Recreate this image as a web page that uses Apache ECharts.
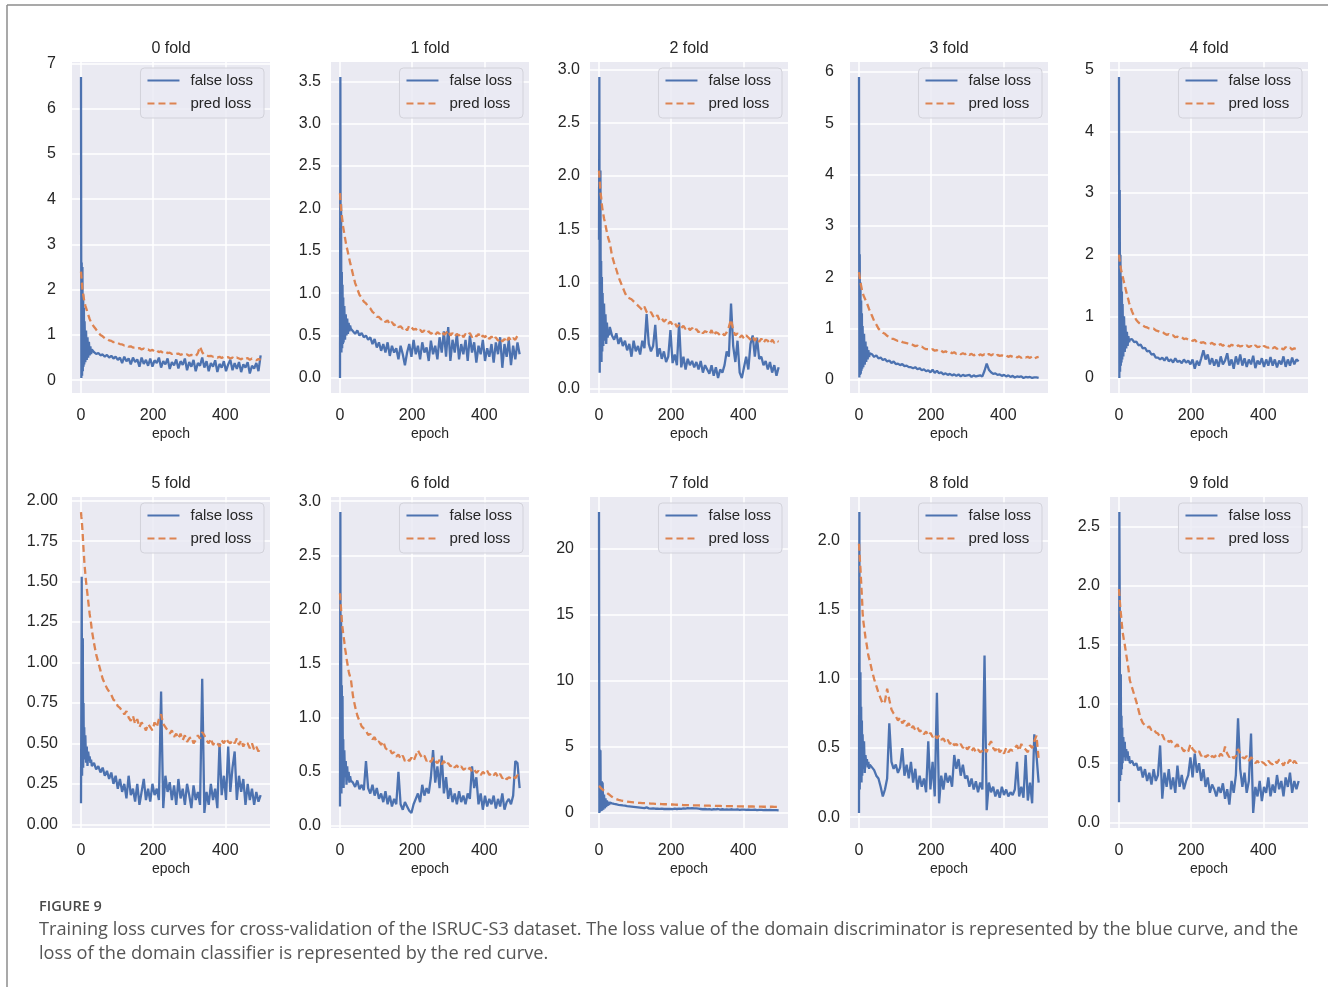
<!DOCTYPE html>
<html>
<head>
<meta charset="utf-8">
<script src="https://cdn.jsdelivr.net/npm/echarts@6/dist/echarts.min.js"></script>
<style>
html,body{margin:0;padding:0;background:#ffffff;}
#chart{width:1328px;height:987px;}
</style>
</head>
<body>
<div id="chart"></div>
<script>
// ---------------- DATA ----------------
const epochs = [0,1,2,3,4,5,6,7,8,9,10,12,14,16,18,20,22,24,26,28,30,
  36,42,48,54,60,66,72,78,84,90,96,102,108,
  114,120,126,132,138,144,150,156,162,168,174,180,186,
  192,198,204,210,216,222,228,234,240,246,252,258,264,
  270,276,282,288,294,300,306,312,318,324,330,336,342,
  348,354,360,366,372,378,384,390,396,402,408,414,420,
  426,432,438,444,450,456,462,468,474,480,486,492,498];

const foldTitles = ['0 fold','1 fold','2 fold','3 fold','4 fold','5 fold','6 fold','7 fold','8 fold','9 fold'];
const legendNames = ['false loss','pred loss'];
const xTicks = [0,200,400];
const xName = 'epoch';

// fold 0
const false0 = [6.7,0.05,2.6,0.1,2.5,0.2,1.9,0.3,1.6,0.35,1.3, 0.4,1.1,0.45,0.95,0.5,0.85,0.55,0.75,0.58,0.68,
  0.62,0.58,0.6,0.55,0.57,0.52,0.56,0.5,0.54,0.48,0.52,0.45,0.5,
  0.38,0.52,0.42,0.48,0.35,0.5,0.4,0.46,0.3,0.5,0.36,0.45,0.32,
  0.48,0.3,0.44,0.38,0.5,0.28,0.42,0.35,0.48,0.25,0.4,0.33,0.46,
  0.26,0.42,0.34,0.48,0.22,0.4,0.3,0.45,0.2,0.38,0.32,0.5,0.28,
  0.42,0.2,0.38,0.3,0.44,0.18,0.36,0.28,0.42,0.2,0.35,0.45,0.22,
  0.38,0.25,0.4,0.18,0.35,0.28,0.4,0.15,0.32,0.26,0.38,0.2,0.55];
const pred0 = [2.4,2.3,2.2,2.1,2.0,1.95,1.9,1.85,1.8,1.75,1.72, 1.65,1.6,1.55,1.5,1.45,1.4,1.35,1.32,1.28,1.25,
  1.18,1.12,1.05,1.0,0.97,0.93,0.92,0.88,0.87,0.84,0.85,0.82,0.8,
  0.79,0.77,0.78,0.74,0.75,0.72,0.73,0.7,0.71,0.68,0.7,0.67,0.68,
  0.65,0.67,0.63,0.66,0.62,0.64,0.6,0.63,0.6,0.61,0.58,0.6,0.58,
  0.59,0.56,0.58,0.55,0.57,0.54,0.56,0.55,0.53,0.6,0.74,0.62,0.56,
  0.55,0.53,0.54,0.52,0.53,0.5,0.52,0.49,0.52,0.5,0.51,0.48,0.5,
  0.47,0.5,0.48,0.46,0.5,0.47,0.49,0.45,0.48,0.46,0.44,0.47,0.45];

// fold 1
const false1 = [0.0,3.55,0.5,2.05,0.3,1.25,0.35,1.1,0.4,0.95,0.42, 0.85,0.45,0.75,0.5,0.7,0.52,0.65,0.55,0.62,0.58,
  0.55,0.52,0.56,0.5,0.53,0.48,0.5,0.45,0.48,0.4,0.46,0.36,0.42,
  0.32,0.4,0.3,0.42,0.26,0.38,0.3,0.35,0.22,0.38,0.28,0.15,0.3,
  0.4,0.25,0.45,0.28,0.38,0.22,0.42,0.3,0.36,0.2,0.44,0.28,0.38,
  0.22,0.48,0.3,0.55,0.25,0.6,0.2,0.45,0.3,0.52,0.22,0.4,0.28,
  0.45,0.2,0.5,0.3,0.42,0.18,0.38,0.28,0.45,0.2,0.35,0.25,0.4,
  0.18,0.42,0.28,0.48,0.12,0.4,0.25,0.45,0.15,0.38,0.22,0.42,0.28];
const pred1 = [2.18,2.1,2.05,2.0,1.95,1.92,1.88,1.85,1.8,1.78,1.75, 1.7,1.65,1.6,1.55,1.52,1.48,1.44,1.4,1.36,1.33,
  1.22,1.12,1.05,0.98,0.95,0.9,0.88,0.84,0.82,0.78,0.76,0.72,0.72,
  0.69,0.7,0.66,0.68,0.63,0.66,0.62,0.64,0.6,0.61,0.58,0.6,0.56,
  0.62,0.6,0.57,0.58,0.55,0.57,0.54,0.56,0.53,0.55,0.52,0.54,0.51,
  0.54,0.52,0.55,0.51,0.53,0.56,0.5,0.53,0.49,0.52,0.5,0.53,0.48,
  0.52,0.5,0.53,0.48,0.51,0.49,0.52,0.47,0.5,0.48,0.51,0.46,0.49,
  0.45,0.48,0.44,0.47,0.43,0.46,0.42,0.48,0.44,0.47,0.45,0.5,0.48];

// fold 2
const false2 = [1.4,2.93,0.15,1.5,2.05,0.3,1.2,0.25,1.05,0.35,0.9, 0.4,0.8,0.45,0.7,0.42,0.62,0.48,0.55,0.5,0.58,
  0.5,0.46,0.52,0.42,0.48,0.4,0.45,0.36,0.42,0.3,0.45,0.35,0.4,
  0.32,0.45,0.38,0.7,0.42,0.35,0.4,0.6,0.3,0.38,0.28,0.35,0.25,
  0.3,0.55,0.24,0.32,0.22,0.62,0.2,0.3,0.18,0.28,0.22,0.26,0.2,
  0.25,0.18,0.26,0.15,0.22,0.18,0.14,0.22,0.12,0.2,0.1,0.18,0.15,
  0.22,0.35,0.3,0.8,0.4,0.25,0.45,0.15,0.1,0.2,0.3,0.18,0.42,
  0.5,0.3,0.48,0.28,0.3,0.22,0.26,0.18,0.25,0.15,0.22,0.12,0.2];
const pred2 = [2.05,2.0,1.95,1.9,1.85,1.82,1.8,1.76,1.73,1.7,1.68, 1.64,1.6,1.57,1.54,1.5,1.47,1.44,1.41,1.39,1.37,
  1.25,1.18,1.12,1.05,1.0,0.95,0.9,0.86,0.85,0.84,0.82,0.8,0.78,
  0.76,0.74,0.77,0.72,0.7,0.72,0.68,0.66,0.69,0.64,0.66,0.63,0.65,
  0.61,0.63,0.6,0.62,0.58,0.6,0.57,0.59,0.56,0.58,0.55,0.57,0.54,
  0.56,0.53,0.55,0.52,0.54,0.53,0.51,0.55,0.5,0.53,0.52,0.5,0.52,
  0.5,0.53,0.58,0.65,0.55,0.5,0.52,0.48,0.5,0.47,0.5,0.48,0.46,
  0.49,0.45,0.48,0.44,0.47,0.43,0.46,0.45,0.42,0.46,0.43,0.45,0.44];

// fold 3
const false3 = [5.9,0.05,2.45,0.1,1.9,0.12,1.55,0.18,1.3,0.22,1.05, 0.25,0.9,0.3,0.75,0.35,0.65,0.4,0.58,0.45,0.52,
  0.5,0.45,0.48,0.42,0.44,0.39,0.41,0.36,0.38,0.33,0.36,0.31,0.32,
  0.29,0.31,0.27,0.28,0.25,0.25,0.23,0.25,0.21,0.23,0.19,0.21,0.17,
  0.19,0.15,0.2,0.14,0.18,0.13,0.15,0.11,0.13,0.1,0.12,0.09,0.11,
  0.08,0.11,0.07,0.1,0.08,0.09,0.1,0.06,0.09,0.07,0.08,0.09,0.07,
  0.18,0.32,0.2,0.15,0.12,0.13,0.1,0.11,0.08,0.1,0.07,0.09,0.06,
  0.08,0.05,0.07,0.06,0.07,0.04,0.06,0.05,0.06,0.04,0.05,0.05,0.04];
const pred3 = [2.1,2.05,2.0,1.95,1.9,1.87,1.83,1.8,1.76,1.73,1.7, 1.66,1.62,1.59,1.56,1.53,1.5,1.46,1.42,1.38,1.35,
  1.25,1.15,1.08,1.0,0.96,0.92,0.9,0.86,0.84,0.8,0.8,0.78,0.76,
  0.77,0.74,0.73,0.72,0.7,0.71,0.68,0.66,0.67,0.64,0.65,0.62,0.6,
  0.6,0.58,0.6,0.57,0.58,0.55,0.57,0.54,0.56,0.53,0.55,0.52,0.54,
  0.51,0.53,0.5,0.52,0.5,0.53,0.49,0.51,0.48,0.5,0.47,0.5,0.48,
  0.5,0.47,0.51,0.48,0.5,0.46,0.49,0.47,0.48,0.46,0.48,0.45,0.47,
  0.45,0.47,0.44,0.46,0.43,0.46,0.44,0.45,0.43,0.46,0.42,0.44,0.45];

// fold 4
const false4 = [4.88,0.0,3.05,0.1,2.0,0.2,1.65,0.25,1.4,0.3,1.2, 0.35,1.0,0.42,0.85,0.48,0.75,0.52,0.68,0.58,0.62,
  0.63,0.58,0.59,0.53,0.54,0.48,0.49,0.43,0.44,0.38,0.39,0.33,0.33,
  0.3,0.33,0.28,0.34,0.27,0.3,0.25,0.32,0.26,0.28,0.24,0.3,0.25,
  0.28,0.22,0.3,0.15,0.28,0.2,0.32,0.45,0.3,0.38,0.22,0.32,0.2,
  0.3,0.18,0.35,0.22,0.28,0.4,0.2,0.3,0.15,0.35,0.22,0.38,0.2,
  0.32,0.18,0.3,0.22,0.36,0.16,0.28,0.22,0.32,0.18,0.3,0.2,0.34,
  0.2,0.3,0.17,0.28,0.22,0.35,0.18,0.3,0.2,0.33,0.22,0.3,0.27];
const pred4 = [2.0,1.95,1.9,1.86,1.82,1.78,1.75,1.72,1.7,1.68,1.66, 1.6,1.55,1.5,1.45,1.4,1.35,1.31,1.27,1.22,1.18,
  1.08,1.0,0.94,0.9,0.87,0.85,0.83,0.82,0.8,0.79,0.8,0.77,0.76,
  0.74,0.75,0.72,0.7,0.71,0.68,0.69,0.66,0.67,0.65,0.66,0.63,0.64,
  0.62,0.63,0.6,0.62,0.58,0.6,0.57,0.58,0.56,0.57,0.55,0.57,0.54,
  0.56,0.53,0.55,0.52,0.55,0.53,0.51,0.54,0.52,0.5,0.53,0.51,0.52,
  0.5,0.53,0.5,0.52,0.49,0.53,0.5,0.51,0.48,0.52,0.5,0.49,0.51,
  0.48,0.5,0.47,0.5,0.48,0.46,0.5,0.47,0.49,0.46,0.48,0.47,0.48];

// fold 5
const false5 = [0.13,0.8,1.53,0.3,0.6,1.15,0.35,0.75,0.4,0.6,0.42, 0.55,0.38,0.48,0.36,0.45,0.4,0.42,0.38,0.4,0.36,
  0.38,0.34,0.36,0.32,0.35,0.3,0.33,0.28,0.32,0.25,0.3,0.22,0.28,
  0.2,0.25,0.16,0.3,0.18,0.22,0.14,0.25,0.12,0.2,0.28,0.15,0.22,
  0.14,0.25,0.18,0.22,0.15,0.82,0.1,0.3,0.2,0.26,0.15,0.24,0.12,
  0.28,0.16,0.22,0.12,0.25,0.18,0.1,0.24,0.15,0.2,0.12,0.9,0.07,
  0.2,0.12,0.25,0.15,0.22,0.1,0.5,0.18,0.3,0.15,0.48,0.2,0.35,
  0.45,0.15,0.3,0.2,0.28,0.12,0.25,0.15,0.22,0.12,0.2,0.14,0.18];
const pred5 = [1.93,1.9,1.88,1.85,1.82,1.78,1.74,1.7,1.67,1.63,1.6, 1.55,1.5,1.46,1.42,1.38,1.34,1.3,1.27,1.24,1.2,
  1.12,1.05,1.0,0.95,0.9,0.87,0.84,0.82,0.8,0.77,0.76,0.73,0.72,
  0.7,0.68,0.7,0.66,0.64,0.67,0.62,0.65,0.6,0.63,0.61,0.58,0.62,
  0.6,0.58,0.63,0.6,0.65,0.68,0.62,0.6,0.58,0.56,0.58,0.54,0.56,
  0.53,0.56,0.52,0.55,0.51,0.53,0.54,0.5,0.52,0.55,0.53,0.57,0.55,
  0.52,0.5,0.53,0.49,0.51,0.5,0.48,0.52,0.5,0.53,0.51,0.5,0.52,
  0.5,0.53,0.49,0.52,0.48,0.51,0.5,0.47,0.5,0.46,0.48,0.45,0.47];

// fold 6
const false6 = [0.18,2.9,0.4,1.95,0.3,1.3,0.35,1.2,0.5,0.8,0.35, 0.7,0.45,0.6,0.38,0.55,0.42,0.5,0.4,0.46,0.42,
  0.4,0.36,0.42,0.34,0.38,0.33,0.6,0.35,0.3,0.38,0.28,0.35,0.25,
  0.3,0.22,0.32,0.2,0.28,0.18,0.25,0.2,0.5,0.2,0.15,0.22,0.18,
  0.14,0.12,0.2,0.25,0.3,0.22,0.38,0.28,0.35,0.3,0.45,0.7,0.4,
  0.55,0.35,0.65,0.3,0.45,0.25,0.35,0.22,0.3,0.2,0.32,0.22,0.28,
  0.2,0.3,0.25,0.55,0.35,0.45,0.2,0.3,0.15,0.28,0.18,0.25,0.2,
  0.28,0.16,0.25,0.18,0.3,0.15,0.22,0.25,0.2,0.28,0.6,0.58,0.35];
const pred6 = [2.15,2.1,2.05,2.0,1.95,1.9,1.86,1.83,1.8,1.77,1.75, 1.7,1.64,1.6,1.55,1.51,1.47,1.43,1.4,1.38,1.36,
  1.2,1.1,1.02,0.97,0.92,0.9,0.88,0.84,0.85,0.8,0.82,0.77,0.78,
  0.75,0.78,0.72,0.7,0.71,0.67,0.68,0.64,0.66,0.62,0.65,0.6,0.62,
  0.6,0.63,0.6,0.65,0.7,0.66,0.63,0.65,0.6,0.62,0.59,0.63,0.6,
  0.58,0.61,0.57,0.6,0.56,0.58,0.55,0.57,0.54,0.56,0.53,0.55,0.52,
  0.53,0.51,0.54,0.5,0.52,0.49,0.51,0.47,0.5,0.48,0.51,0.47,0.49,
  0.47,0.49,0.45,0.48,0.44,0.46,0.43,0.45,0.44,0.46,0.44,0.47,0.45];

// fold 7
const false7 = [22.8,0.0,4.8,0.1,4.75,0.2,1.5,0.15,2.4,0.2,2.3, 0.25,1.4,0.35,1.1,0.45,0.95,0.55,0.85,0.6,0.78,
  0.72,0.68,0.66,0.62,0.6,0.57,0.55,0.52,0.5,0.48,0.46,0.44,0.42,
  0.4,0.38,0.36,0.42,0.35,0.33,0.34,0.32,0.33,0.31,0.32,0.3,0.31,
  0.3,0.31,0.29,0.32,0.3,0.33,0.31,0.34,0.33,0.36,0.34,0.37,0.35,
  0.34,0.32,0.3,0.28,0.3,0.27,0.29,0.26,0.28,0.27,0.3,0.26,0.28,
  0.26,0.27,0.25,0.28,0.26,0.25,0.27,0.24,0.26,0.25,0.24,0.26,0.24,
  0.23,0.25,0.22,0.24,0.23,0.22,0.24,0.21,0.23,0.22,0.21,0.22,0.2];
const pred7 = [2.05,2.0,1.98,1.95,1.92,1.9,1.87,1.84,1.82,1.79,1.76, 1.72,1.68,1.64,1.6,1.56,1.52,1.48,1.44,1.4,1.36,
  1.22,1.12,1.05,0.99,0.95,0.92,0.89,0.86,0.84,0.82,0.8,0.79,0.77,
  0.76,0.75,0.74,0.73,0.72,0.71,0.7,0.69,0.69,0.68,0.67,0.66,0.66,
  0.65,0.64,0.64,0.63,0.62,0.62,0.61,0.6,0.6,0.59,0.59,0.58,0.58,
  0.57,0.57,0.56,0.56,0.55,0.55,0.55,0.54,0.54,0.53,0.53,0.53,0.52,
  0.52,0.52,0.51,0.51,0.51,0.5,0.5,0.5,0.5,0.49,0.49,0.49,0.49,
  0.49,0.48,0.48,0.48,0.48,0.47,0.47,0.47,0.47,0.47,0.46,0.46,0.46];

// fold 8
const false8 = [0.03,2.21,0.2,0.5,1.05,0.3,0.8,0.25,0.7,0.3,0.6, 0.35,0.55,0.32,0.45,0.38,0.42,0.36,0.4,0.35,0.38,
  0.36,0.34,0.3,0.28,0.22,0.15,0.2,0.28,0.68,0.4,0.35,0.38,0.32,
  0.36,0.5,0.3,0.38,0.28,0.4,0.25,0.35,0.2,0.3,0.22,0.28,0.18,
  0.55,0.2,0.4,0.15,0.9,0.1,0.3,0.2,0.32,0.25,0.3,0.22,0.45,
  0.35,0.42,0.3,0.38,0.28,0.3,0.22,0.28,0.2,0.26,0.18,0.25,0.2,
  1.17,0.05,0.25,0.18,0.22,0.15,0.2,0.14,0.22,0.16,0.2,0.15,0.18,
  0.16,0.2,0.4,0.15,0.22,0.14,0.45,0.12,0.25,0.1,0.6,0.45,0.25];
const pred8 = [1.98,1.93,1.88,1.84,1.8,1.75,1.7,1.65,1.6,1.55,1.48, 1.42,1.38,1.34,1.3,1.27,1.24,1.2,1.17,1.15,1.13,
  1.06,1.0,0.95,0.9,0.86,0.82,0.84,0.93,0.85,0.78,0.75,0.73,0.7,
  0.72,0.68,0.7,0.66,0.68,0.64,0.66,0.63,0.65,0.62,0.63,0.6,0.62,
  0.59,0.61,0.58,0.6,0.57,0.59,0.56,0.57,0.54,0.56,0.53,0.55,0.52,
  0.53,0.51,0.53,0.5,0.52,0.49,0.51,0.48,0.5,0.47,0.49,0.47,0.48,
  0.5,0.47,0.52,0.55,0.5,0.48,0.51,0.47,0.49,0.46,0.5,0.47,0.49,
  0.48,0.5,0.52,0.48,0.53,0.5,0.49,0.47,0.52,0.5,0.55,0.59,0.42];

// fold 9
const false9 = [0.17,2.62,1.85,0.35,0.8,1.25,0.4,0.9,0.45,0.8,0.5, 0.72,0.55,0.68,0.52,0.62,0.55,0.6,0.52,0.56,0.5,
  0.52,0.48,0.5,0.44,0.47,0.38,0.45,0.35,0.42,0.32,0.45,0.35,0.4,
  0.65,0.2,0.42,0.3,0.45,0.28,0.38,0.25,0.48,0.3,0.4,0.28,0.35,
  0.4,0.55,0.38,0.58,0.42,0.5,0.35,0.45,0.3,0.38,0.25,0.32,0.28,
  0.22,0.3,0.25,0.33,0.2,0.28,0.15,0.35,0.25,0.4,0.88,0.45,0.3,
  0.42,0.25,0.35,0.75,0.08,0.3,0.22,0.35,0.18,0.3,0.25,0.38,0.22,
  0.32,0.25,0.4,0.28,0.35,0.22,0.38,0.3,0.42,0.25,0.35,0.28,0.35];
const pred9 = [1.97,1.93,1.88,1.84,1.8,1.77,1.74,1.7,1.67,1.64,1.61, 1.57,1.53,1.5,1.46,1.42,1.38,1.34,1.3,1.25,1.2,
  1.14,1.08,1.02,0.95,0.88,0.84,0.82,0.8,0.81,0.78,0.79,0.76,0.75,
  0.72,0.74,0.7,0.71,0.68,0.69,0.66,0.64,0.66,0.62,0.63,0.6,0.62,
  0.6,0.66,0.62,0.6,0.58,0.6,0.56,0.58,0.55,0.57,0.54,0.56,0.55,
  0.57,0.55,0.58,0.56,0.64,0.58,0.55,0.57,0.54,0.56,0.62,0.58,0.55,
  0.54,0.56,0.52,0.55,0.53,0.5,0.52,0.49,0.51,0.5,0.48,0.52,0.5,
  0.49,0.52,0.5,0.53,0.51,0.48,0.52,0.5,0.53,0.49,0.52,0.5,0.52];

// y tick labels per fold
const yTicks0 = [0,1,2,3,4,5,6,7];
const yTicks1 = [0,0.5,1,1.5,2,2.5,3,3.5];
const yTicks2 = [0,0.5,1,1.5,2,2.5,3];
const yTicks3 = [0,1,2,3,4,5,6];
const yTicks4 = [0,1,2,3,4,5];
const yTicks5 = [0,0.25,0.5,0.75,1,1.25,1.5,1.75,2];
const yTicks6 = [0,0.5,1,1.5,2,2.5,3];
const yTicks7 = [0,5,10,15,20];
const yTicks8 = [0,0.5,1,1.5,2];
const yTicks9 = [0,0.5,1,1.5,2,2.5];
const yDecimals = [0,1,1,0,0,2,1,0,1,1];

const captionLabel = 'FIGURE 9';
const captionLines = [
  'Training loss curves for cross-validation of the ISRUC-S3 dataset. The loss value of the domain discriminator is represented by the blue curve, and the',
  'loss of the domain classifier is represented by the red curve.'
];

// ---------------- BUILD ----------------
const falseSets = [false0,false1,false2,false3,false4,false5,false6,false7,false8,false9];
const predSets = [pred0,pred1,pred2,pred3,pred4,pred5,pred6,pred7,pred8,pred9];
const yTickSets = [yTicks0,yTicks1,yTicks2,yTicks3,yTicks4,yTicks5,yTicks6,yTicks7,yTicks8,yTicks9];

const FONT = "'Liberation Sans', Arial, Helvetica, sans-serif";
const TXT = '#262626';
const BLUE = '#4C72B0';
const ORANGE = '#DD8452';
const CW = 1328;
const colLeft = [72, 331, 590, 850, 1110];
const rowTop = [62, 497];
const PW = 198, PH = 331;
const labelMargin = {0: 16, 1: 10, 2: 14};

function pairs(arr) {
  const out = [];
  for (let k = 0; k < epochs.length && k < arr.length; k++) out.push([epochs[k], arr[k]]);
  return out;
}

const grids = [], xAxes = [], yAxes = [], series = [], legends = [], graphics = [];

for (let i = 0; i < 10; i++) {
  const r = Math.floor(i / 5), c = i % 5;
  const left = colLeft[c], top = rowTop[r];
  const fs = falseSets[i], ps = predSets[i];
  const all = fs.concat(ps);
  const lo = Math.min.apply(null, all), hi = Math.max.apply(null, all);
  const pad = (hi - lo) * 0.05;
  const dec = yDecimals[i];
  grids.push({left: left, top: top, width: PW, height: PH, show: true,
    backgroundColor: '#EAEAF2', borderWidth: 0, containLabel: false});
  xAxes.push({
    type: 'value', gridIndex: i, min: -24.95, max: 523.95,
    axisLine: {show: false},
    axisTick: {show: false, customValues: xTicks},
    axisLabel: {customValues: xTicks, fontSize: 16, color: TXT, fontFamily: FONT, margin: 15},
    splitLine: {show: true, lineStyle: {color: '#ffffff', width: 1.5}},
    name: xName, nameLocation: 'middle', nameGap: 34,
    nameTextStyle: {fontSize: 14, color: TXT, fontFamily: FONT}
  });
  yAxes.push({
    type: 'value', gridIndex: i, min: lo - pad, max: hi + pad,
    axisLine: {show: false},
    axisTick: {show: false, customValues: yTickSets[i]},
    axisLabel: {customValues: yTickSets[i], fontSize: 16, color: TXT, fontFamily: FONT,
      margin: labelMargin[dec],
      formatter: function (v) { return Number(v).toFixed(dec); }},
    splitLine: {show: true, lineStyle: {color: '#ffffff', width: 1.5}}
  });
  series.push({
    type: 'line', name: legendNames[0], xAxisIndex: i, yAxisIndex: i,
    data: pairs(fs), symbol: 'none', showSymbol: false, silent: true, z: 3,
    lineStyle: {color: BLUE, width: 2.3}, itemStyle: {color: BLUE}
  });
  series.push({
    type: 'line', name: legendNames[1], xAxisIndex: i, yAxisIndex: i,
    data: pairs(ps), symbol: 'none', showSymbol: false, silent: true, z: 4,
    lineStyle: {color: ORANGE, width: 2.3, type: [7, 4]}, itemStyle: {color: ORANGE}
  });
  legends.push({
    data: legendNames, orient: 'vertical',
    right: CW - (left + PW) + 6, top: top + 6,
    itemWidth: 32, itemHeight: 14, itemGap: 8,
    padding: [5, 11, 7, 6],
    itemStyle: {opacity: 0, borderWidth: 0},
    lineStyle: {width: 2},
    backgroundColor: 'rgba(234,234,242,0.8)', borderColor: '#d2d2da', borderWidth: 1, borderRadius: 4,
    selectedMode: false,
    textStyle: {fontSize: 15, color: TXT, fontFamily: FONT, padding: [0, 0, 0, 6]}
  });
  graphics.push({
    type: 'text', x: left + PW / 2, y: top - 13,
    style: {text: foldTitles[i], fill: TXT, font: '16px ' + FONT, align: 'center', verticalAlign: 'middle'}
  });
}

// frame
graphics.push({type: 'line', shape: {x1: 7, y1: 5, x2: 1328, y2: 5}, style: {stroke: '#8c8c8c', lineWidth: 1.5}});
graphics.push({type: 'line', shape: {x1: 7, y1: 5, x2: 7, y2: 987}, style: {stroke: '#8c8c8c', lineWidth: 1.5}});
// caption
graphics.push({type: 'text', x: 39, y: 907,
  style: {text: captionLabel, fill: '#4a4a4a', font: '600 14.5px "Open Sans", sans-serif', align: 'left', verticalAlign: 'middle'}});
graphics.push({type: 'text', x: 39, y: 930,
  style: {text: captionLines[0], fill: '#555555', font: '18.2px "Open Sans", sans-serif', align: 'left', verticalAlign: 'middle'}});
graphics.push({type: 'text', x: 39, y: 954,
  style: {text: captionLines[1], fill: '#555555', font: '18.2px "Open Sans", sans-serif', align: 'left', verticalAlign: 'middle'}});

const chart = echarts.init(document.getElementById('chart'), null, {renderer: 'canvas', width: 1328, height: 987});
chart.setOption({
  animation: false,
  backgroundColor: '#ffffff',
  grid: grids, xAxis: xAxes, yAxis: yAxes, series: series, legend: legends,
  graphic: graphics
});
</script>
</body>
</html>
